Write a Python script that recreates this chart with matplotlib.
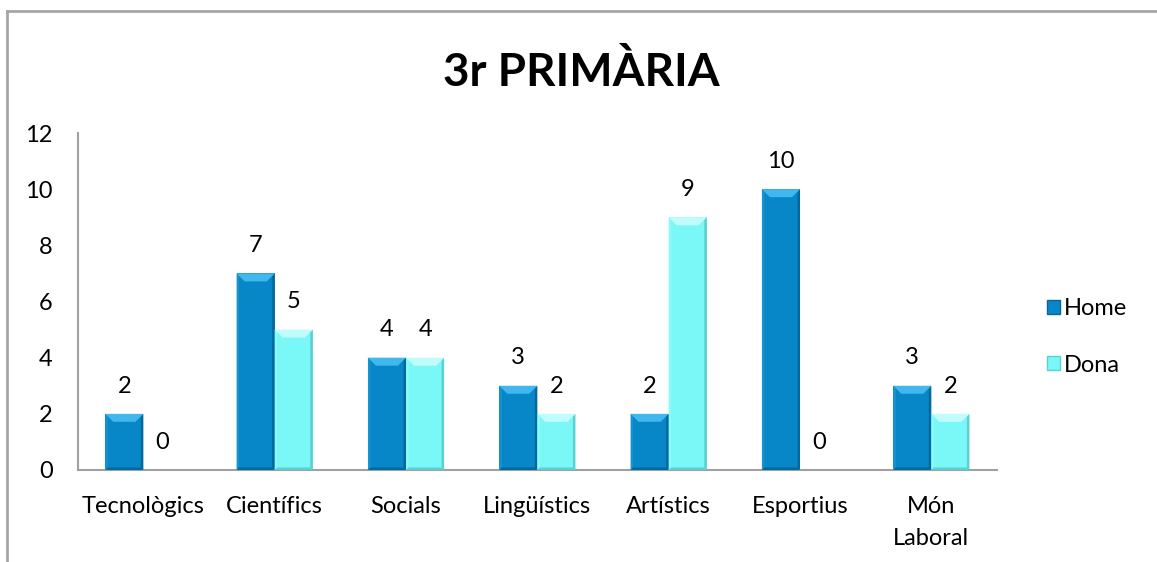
import matplotlib.pyplot as plt
from matplotlib.patches import Polygon, Rectangle
from matplotlib.lines import Line2D
import numpy as np

categories = ['Tecnològics', 'Científics', 'Socials', 'Lingüístics',
              'Artístics', 'Esportius', 'Món\nLaboral']
home = [2, 7, 4, 3, 2, 10, 3]
dona = [0, 5, 4, 2, 9, 0, 2]
series_names = ['Home', 'Dona']
title = '3r PRIMÀRIA'

plt.rcParams['font.family'] = ['Lato', 'DejaVu Sans']

colors = {
    'Home': {'face': '#0786c8', 'top': '#40b8ee', 'light': '#1592d0', 'dark': '#05689c'},
    'Dona': {'face': '#7af8f8', 'top': '#c0fcfc', 'light': '#8cfafa', 'dark': '#5ccfd2'},
}

W, H = 1157, 562
fs = 17
fig = plt.figure(figsize=(W / 100, H / 100), dpi=100)
ax = fig.add_axes([77.7 / W, 1 - 470 / H, (997 - 77.7) / W, (470 - 133) / H])

x = np.arange(len(categories))
bw = 0.29
bars = {}
for name, vals, off in [('Home', home, -bw / 2), ('Dona', dona, bw / 2)]:
    bars[name] = ax.bar(x + off, vals, bw, color=colors[name]['face'],
                        edgecolor='none', zorder=2)
    for xi, v in zip(x + off, vals):
        ax.annotate(str(v), (xi, v), xytext=(0, 20), textcoords='offset points',
                    ha='center', va='center', fontsize=fs)

ax.set_xlim(-0.5, len(categories) - 0.5)
ax.set_ylim(0, 12)
ax.set_yticks(range(0, 13, 2))
ax.set_xticks(x)
ax.set_xticklabels(categories, fontsize=fs, linespacing=1.6)
ax.tick_params(axis='both', length=0, labelsize=fs)
ax.tick_params(axis='y', pad=18)
ax.tick_params(axis='x', pad=19)
for s in ['top', 'right']:
    ax.spines[s].set_visible(False)
for s in ['left', 'bottom']:
    ax.spines[s].set_color('#a0a0a0')
    ax.spines[s].set_linewidth(1.5)

# bevel effect on each bar
inv = ax.transData.inverted()
for name, cont in bars.items():
    c = colors[name]
    for r in cont:
        if r.get_height() <= 0:
            continue
        (x0, y0), (x1, y1) = ax.transData.transform(
            [(r.get_x(), 0), (r.get_x() + r.get_width(), r.get_height())])
        bt, bs = 8, 2.5
        polys = [
            ([(x0, y0), (x0, y1), (x0 + bs, y1 - bs), (x0 + bs, y0 + bs)], c['light']),
            ([(x1, y0), (x1, y1), (x1 - bs, y1 - bs), (x1 - bs, y0 + bs)], c['dark']),
            ([(x0, y0), (x1, y0), (x1 - bs, y0 + bs), (x0 + bs, y0 + bs)], c['dark']),
            ([(x0, y1), (x1, y1), (x1 - bt, y1 - bt), (x0 + bt, y1 - bt)], c['top']),
        ]
        for pts, col in polys:
            ax.add_patch(Polygon(inv.transform(pts), closed=True, facecolor=col,
                                 edgecolor='none', zorder=3))

fig.text(581 / W, 1 - 72 / H, title, ha='center', va='center',
         fontsize=33, fontweight='bold')

handles = [Rectangle((0, 0), 1, 1, facecolor=colors[n]['face'],
                     edgecolor=colors[n]['dark']) for n in series_names]
fig.legend(handles, series_names, loc='center left',
           bbox_to_anchor=(1026 / W, 1 - 337 / H), frameon=False, fontsize=fs,
           handlelength=0.55, handleheight=0.55, handletextpad=0.15, labelspacing=1.5)

# outer chart frame (cut off at right and bottom)
fig.add_artist(Line2D([7 / W, 7 / W], [0, 1 - 11 / H], color='#a6a6a6', lw=2,
                      transform=fig.transFigure))
fig.add_artist(Line2D([7 / W, 1], [1 - 11 / H, 1 - 11 / H], color='#a6a6a6', lw=2,
                      transform=fig.transFigure))

fig.savefig('out.png', dpi=100)
